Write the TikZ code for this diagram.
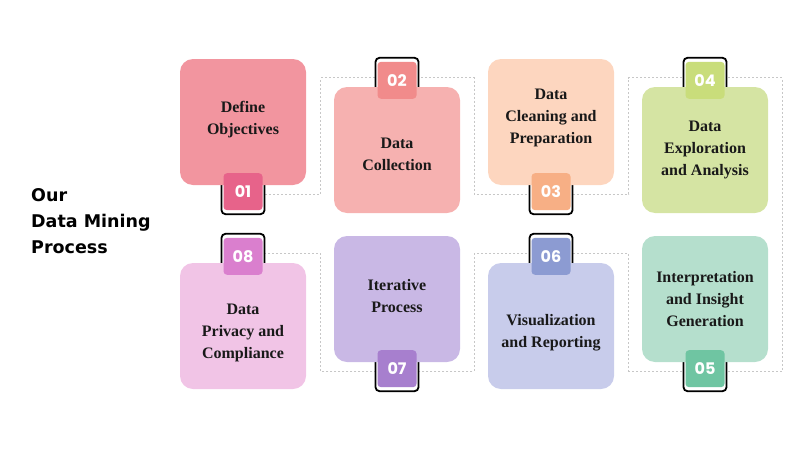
\documentclass[tikz,border=0pt]{standalone}
\usepackage{fontspec}
\setmainfont{Liberation Serif}
\newfontfamily\titlefont{DejaVu Sans}
\newfontfamily\numfont{Poppins}
\usetikzlibrary{positioning,calc}

\definecolor{card1}{HTML}{F2959F}
\definecolor{card2}{HTML}{F6B1B0}
\definecolor{card3}{HTML}{FDD6BF}
\definecolor{card4}{HTML}{D5E4A3}
\definecolor{card5}{HTML}{B5DFCD}
\definecolor{card6}{HTML}{C8CCEB}
\definecolor{card7}{HTML}{C9B8E5}
\definecolor{card8}{HTML}{F1C4E6}
\definecolor{tag1}{HTML}{E7638A}
\definecolor{tag2}{HTML}{F18B8B}
\definecolor{tag3}{HTML}{F7AF85}
\definecolor{tag4}{HTML}{C9DD7B}
\definecolor{tag5}{HTML}{6FC5A2}
\definecolor{tag6}{HTML}{8C9BD2}
\definecolor{tag7}{HTML}{A77FCE}
\definecolor{tag8}{HTML}{DA7FCE}

\pgfdeclarelayer{lines}
\pgfdeclarelayer{frames}
\pgfsetlayers{lines,frames,main}

\tikzset{
card/.style={rounded corners=13pt, minimum width=126pt, minimum height=126pt, inner sep=0pt},
cardtext/.style={align=center, inner sep=0pt, text=black!90, font=\bfseries\fontsize{16}{22}\selectfont},
tagfill/.style={rounded corners=3.5pt, minimum width=39pt, minimum height=37pt, inner sep=0pt, text=white, font=\numfont\bfseries\fontsize{16}{16}\selectfont},
tagframe/.style={draw=black, line width=1.8pt, fill=white, rounded corners=4pt, minimum width=43pt, minimum height=40pt, inner sep=0pt},
flowline/.style={draw=black!22, line width=0.8pt, dash pattern=on 2pt off 2pt}
}

\begin{document}
\begin{tikzpicture}[x=1pt,y=-1pt]
\useasboundingbox (0,0) rectangle (800,450);

\node[anchor=west, align=left, inner sep=0pt, font=\titlefont\bfseries\fontsize{17.5}{26}\selectfont] (title) at (31,221) {Our\\Data Mining\\Process};

% cards with their texts
\foreach \n/\x/\y/\dy/\txt in {1/243/122/-2/{Define\\Objectives},
  2/397/150/4/{Data\\Collection},
  3/551/122/-4/{Data\\Cleaning and\\Preparation},
  4/705/150/0/{Data\\Exploration\\and Analysis},
  5/705/299/0/{Interpretation\\and Insight\\Generation},
  6/551/326/7/{Visualization\\and Reporting},
  7/397/299/-3/{Iterative\\Process},
  8/243/326/7/{Data\\Privacy and\\Compliance}}{
  \node[card, fill=card\n] (d\n) at (\x,\y) {};
  \node[cardtext] (t\n) at ($(d\n)+(0,\dy)$) {\txt};
}

% number tags, below or above the card
\foreach \n/\side/\s in {1/south/1, 2/north/-1, 3/south/1, 4/north/-1,
  5/south/1, 6/north/-1, 7/south/1, 8/north/-1}{
  \node[tagfill, fill=tag\n] (b\n) at ($(d\n.\side)+(0,6.5*\s)$) {0\n};
  \begin{pgfonlayer}{frames}
    \node[tagframe] (f\n) at ($(b\n)+(0,2.5*\s)$) {};
  \end{pgfonlayer}
}

% dashed path through the tags
\coordinate (g1) at ($(d1.east)+(14.5,0)$);
\coordinate (g2) at ($(d2.east)+(14,0)$);
\coordinate (g3) at ($(d3.east)+(14.5,0)$);
\coordinate (g4) at ($(d4.east)+(14,0)$);
\begin{pgfonlayer}{lines}
\draw[flowline] (f1) -- (g1 |- f1) -- (g1 |- f2) -- (g2 |- f2) -- (g2 |- f3)
  -- (g3 |- f3) -- (g3 |- f4) -- (g4 |- f4) -- (g4 |- f5) -- (g3 |- f5)
  -- (g3 |- f6) -- (g2 |- f6) -- (g2 |- f7) -- (g1 |- f7) -- (g1 |- f8) -- (f8);
\end{pgfonlayer}
\end{tikzpicture}
\end{document}
